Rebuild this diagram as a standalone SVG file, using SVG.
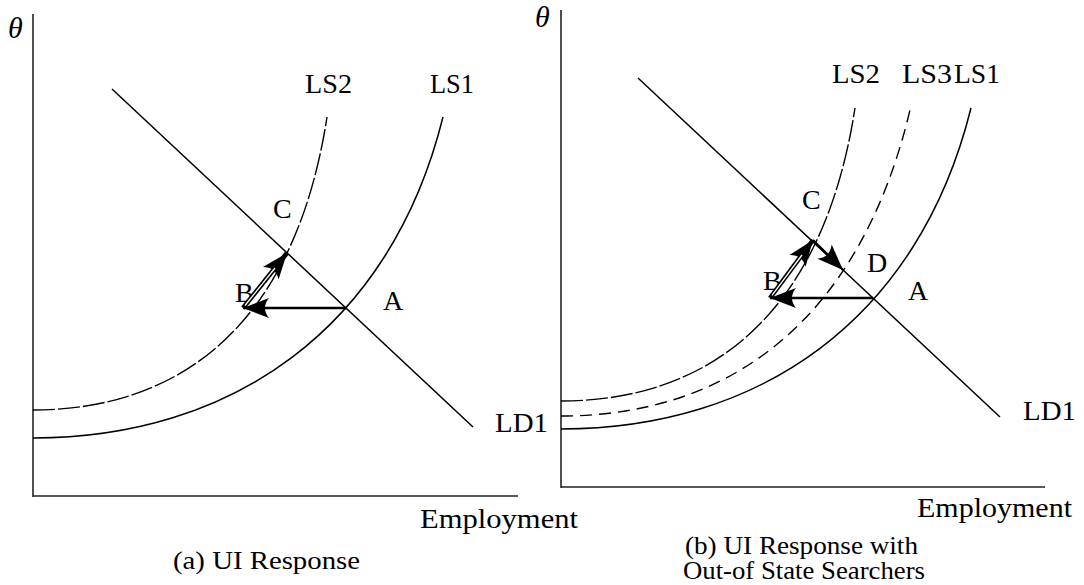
<svg xmlns="http://www.w3.org/2000/svg" width="1084" height="585" viewBox="0 0 1084 585">
<style>
.ax{stroke:#222;stroke-width:1.6;fill:none}
.solid{stroke:#000;stroke-width:1.5;fill:none}
.ls2{stroke:#000;stroke-width:1.4;fill:none;stroke-dasharray:22 3}
.ls3{stroke:#000;stroke-width:1.4;fill:none;stroke-dasharray:12 7}
.arr{stroke:#000;stroke-width:2.3;fill:none}
.dbl{stroke:#000;stroke-width:4.6;fill:none}
.dblw{stroke:#fff;stroke-width:1.3;fill:none}
text{font-family:"Liberation Serif","DejaVu Serif",serif;font-size:28px;fill:#000}
.th{font-style:italic;font-size:30px}
.cap{font-size:25px}
</style>
<defs>
<marker id="ah" markerUnits="userSpaceOnUse" markerWidth="34" markerHeight="28" viewBox="-28 -14 34 28" refX="0" refY="0" orient="auto">
<path d="M0,0 L-26,-10 Q-18,0 -26,10 Z" fill="#000"/>
</marker>
</defs>
<g id="panel-a">
<g id="axes-a">
<line class="ax" x1="33" y1="14" x2="33" y2="497"/>
<line class="ax" x1="33" y1="496" x2="518" y2="496"/>
<text class="th" x="8" y="38">θ</text>
<text x="420" y="528" textLength="158" lengthAdjust="spacingAndGlyphs">Employment</text>
<text class="cap" x="173" y="569" textLength="187" lengthAdjust="spacingAndGlyphs">(a) UI Response</text>
</g>
<g id="LD1-a">
<line class="solid" x1="112" y1="89" x2="473" y2="427"/>
<text x="495" y="432" textLength="53" lengthAdjust="spacingAndGlyphs">LD1</text>
</g>
<g id="LS1-a">
<path class="solid" d="M33,438 C230,438 390,330 443,117"/>
<text x="430" y="93" textLength="44" lengthAdjust="spacingAndGlyphs">LS1</text>
</g>
<g id="LS2-a">
<path class="ls2" d="M33,410 C180,410 295,325 327,117"/>
<text x="305" y="93" textLength="47" lengthAdjust="spacingAndGlyphs">LS2</text>
</g>
<g id="A-a"><text x="383" y="310">A</text></g>
<g id="B-a"><text x="235" y="302">B</text></g>
<g id="C-a"><text x="273" y="218">C</text></g>
</g>
<g id="panel-b">
<g id="axes-b">
<line class="ax" x1="561" y1="10" x2="561" y2="488"/>
<line class="ax" x1="561" y1="487" x2="1045" y2="487"/>
<text class="th" x="535" y="27">θ</text>
<text x="917" y="517" textLength="155" lengthAdjust="spacingAndGlyphs">Employment</text>
<text class="cap" x="685" y="554" textLength="233" lengthAdjust="spacingAndGlyphs">(b) UI Response with</text>
<text class="cap" x="683" y="579" textLength="242" lengthAdjust="spacingAndGlyphs">Out-of State Searchers</text>
</g>
<g id="LD1-b">
<line class="solid" x1="638" y1="78" x2="1000" y2="417"/>
<text x="1023" y="420" textLength="53" lengthAdjust="spacingAndGlyphs">LD1</text>
</g>
<g id="LS1-b">
<path class="solid" d="M561,429 C758,429 918,321 971,108"/>
<text x="954" y="83" textLength="46" lengthAdjust="spacingAndGlyphs">LS1</text>
</g>
<g id="LS2-b">
<path class="ls2" d="M561,401 C708,401 823,316 855,108"/>
<text x="832" y="83" textLength="48" lengthAdjust="spacingAndGlyphs">LS2</text>
</g>
<g id="LS3-b">
<path class="ls3" d="M561,416 C730,416 860,320 910,110"/>
<text x="902" y="83" textLength="50" lengthAdjust="spacingAndGlyphs">LS3</text>
</g>
<g id="A-b"><text x="908" y="300">A</text></g>
<g id="B-b"><text x="763" y="290">B</text></g>
<g id="C-b"><text x="802" y="209">C</text></g>
<g id="D-b"><text x="867" y="272">D</text></g>
</g>
<g id="connectors">
<line class="arr" x1="346" y1="308" x2="243" y2="308" marker-end="url(#ah)"/>
<line class="dbl" x1="243" y1="308" x2="287" y2="253" marker-end="url(#ah)"/>
<line class="dblw" x1="245" y1="305.5" x2="275" y2="268"/>
<line class="arr" x1="873" y1="298" x2="770" y2="298" marker-end="url(#ah)"/>
<line class="dbl" x1="770" y1="298" x2="813" y2="240" marker-end="url(#ah)"/>
<line class="dblw" x1="772" y1="295.3" x2="802" y2="255"/>
<line class="arr" x1="813" y1="240" x2="843" y2="270" marker-end="url(#ah)"/>
</g>
</svg>
